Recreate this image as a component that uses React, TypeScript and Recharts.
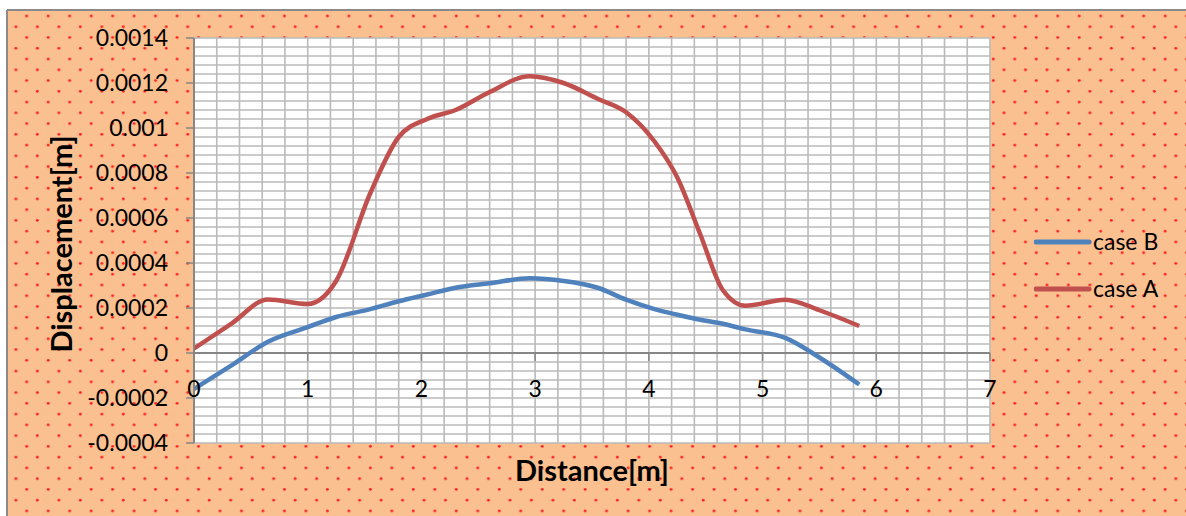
import { LineChart, Line, XAxis, YAxis, CartesianGrid, ReferenceLine, Legend } from 'recharts';

// --- data ---
const distance = [0, 0.33, 0.65, 1.0, 1.25, 1.55, 1.8, 2.05, 2.3, 2.6, 2.95, 3.25, 3.55, 3.8, 4.05, 4.25, 4.45, 4.65, 4.85, 5.2, 5.5, 5.85];
const caseA = [0.00002, 0.000131, 0.000238, 0.000218, 0.00032, 0.00071, 0.00096, 0.00104, 0.00108, 0.00116, 0.00123, 0.0012, 0.00113, 0.00107, 0.00094, 0.00078, 0.00053, 0.00028, 0.00021, 0.000237, 0.00019, 0.00012];
const caseB = [-0.00016, -0.000055, 0.00005, 0.000115, 0.00016, 0.000195, 0.00023, 0.00026, 0.00029, 0.00031, 0.000332, 0.00032, 0.00029, 0.000237, 0.000195, 0.00017, 0.000148, 0.00013, 0.000105, 0.000067, -0.00002, -0.00014];

const seriesOrder = ['case B', 'case A'];
const xTicks = [0, 1, 2, 3, 4, 5, 6, 7];
const yTicks = [-0.0004, -0.0002, 0, 0.0002, 0.0004, 0.0006, 0.0008, 0.001, 0.0012, 0.0014];
const yTickLabels = ['-0.0004', '-0.0002', '0', '0.0002', '0.0004', '0.0006', '0.0008', '0.001', '0.0012', '0.0014'];

const data = distance.map((d, i) => ({ distance: d, caseA: caseA[i], caseB: caseB[i] }));

// --- layout ---
const W = 1186;
const H = 516;
const MARGIN = { top: 38, right: 196, bottom: 43, left: 134 };
const X_AXIS_H = 30;
const Y_AXIS_W = 60;
const Y_MIN = -0.0004;
const Y_MAX = 0.0014;
const PLOT_H = H - MARGIN.top - MARGIN.bottom - X_AXIS_H;
const ZERO_OFFSET = (PLOT_H * (0 - Y_MIN)) / (Y_MAX - Y_MIN);

const FONT = 'Lato, "Open Sans", sans-serif';
const AXIS_GRAY = '#868686';
const GRID_GRAY = '#BABABA';

// minor grid every 0.2 m and every 0.00004 m
const vGrid: number[] = [];
for (let i = 0; i <= 35; i++) vGrid.push(Math.round(i * 2) / 10);
const hGrid: number[] = [];
for (let i = 0; i <= 45; i++) hGrid.push(Y_MIN + i * 0.00004);

function XTick(props: any) {
    const { x, y, payload } = props;
    const zy = y - ZERO_OFFSET;
    return (
        <g>
            <line x1={x} x2={x} y1={zy} y2={zy + 8} stroke={AXIS_GRAY} strokeWidth={1.5} />
            <text x={x} y={zy + 44} textAnchor="middle" fontFamily={FONT} fontSize={23} fill="#000">
                {payload.value}
            </text>
        </g>
    );
}

function LegendBox(props: any) {
    const items = [...(props.payload || [])].sort(
        (a: any, b: any) => seriesOrder.indexOf(a.value) - seriesOrder.indexOf(b.value)
    );
    return (
        <div style={{ fontFamily: FONT, fontSize: 23, color: '#000' }}>
            {items.map((it: any) => (
                <div key={it.value} style={{ display: 'flex', alignItems: 'center', height: 47 }}>
                    <svg width={59} height={10} style={{ display: 'block' }}>
                        <line x1={2} x2={55} y1={5} y2={5} stroke={it.color} strokeWidth={5} strokeLinecap="round" />
                    </svg>
                    <span style={{ lineHeight: '23px' }}>{it.value}</span>
                </div>
            ))}
        </div>
    );
}

export default function App() {
    return (
        <div style={{ position: 'relative', width: W, height: H, overflow: 'hidden' }}>
            <style>{'body{margin:0}'}</style>
            <svg width={W} height={H} style={{ position: 'absolute', left: 0, top: 0 }}>
                <defs>
                    <pattern id="dots" patternUnits="userSpaceOnUse" width={21.48} height={21.52}>
                        <circle cx={5.2} cy={16} r={1.4} fill="#FF1A1A" />
                        <circle cx={15.9} cy={5.24} r={1.4} fill="#FF1A1A" />
                    </pattern>
                </defs>
                <rect x={0} y={0} width={W} height={H} fill="#fff" />
                <rect x={7} y={10} width={W} height={H} fill="#FAC090" />
                <rect x={7} y={10} width={W} height={H} fill="url(#dots)" />
                <line x1={7} x2={W} y1={10} y2={10} stroke="#8A8A8A" strokeWidth={2} />
                <line x1={7} x2={7} y1={10} y2={H} stroke="#8A8A8A" strokeWidth={2} />
                <text
                    x={0}
                    y={0}
                    transform="translate(72 244) rotate(-90)"
                    textAnchor="middle"
                    fontFamily={FONT}
                    fontWeight="bold"
                    fontSize={29}
                    fill="#000"
                >
                    Displacement[m]
                </text>
                <text x={592} y={481} textAnchor="middle" fontFamily={FONT} fontWeight="bold" fontSize={29} fill="#000">
                    Distance[m]
                </text>
            </svg>
            <div style={{ position: 'absolute', left: 0, top: 0 }}>
                <LineChart width={W} height={H} data={data} margin={MARGIN}>
                    <CartesianGrid
                        fill="#fff"
                        stroke={GRID_GRAY}
                        strokeWidth={1.6}
                        verticalValues={vGrid}
                        horizontalValues={hGrid}
                    />
                    <XAxis
                        dataKey="distance"
                        type="number"
                        domain={[0, 7]}
                        ticks={xTicks}
                        interval={0}
                        height={X_AXIS_H}
                        axisLine={false}
                        tickLine={false}
                        tickSize={0}
                        tickMargin={0}
                        tick={<XTick />}
                    />
                    <YAxis
                        type="number"
                        domain={[Y_MIN, Y_MAX]}
                        ticks={yTicks}
                        interval={0}
                        allowDataOverflow
                        width={Y_AXIS_W}
                        axisLine={{ stroke: AXIS_GRAY, strokeWidth: 2 }}
                        tickLine={{ stroke: AXIS_GRAY, strokeWidth: 1.5 }}
                        tickSize={8}
                        tickMargin={18}
                        tickFormatter={(v: number) => yTickLabels[yTicks.indexOf(v)] ?? String(v)}
                        tick={{ fontFamily: FONT, fontSize: 23, fill: '#000' }}
                    />
                    <ReferenceLine y={0} stroke={AXIS_GRAY} strokeWidth={2} />
                    <Line
                        name="case B"
                        dataKey="caseB"
                        type="monotone"
                        stroke="#4F81BD"
                        strokeWidth={4.5}
                        dot={false}
                        isAnimationActive={false}
                    />
                    <Line
                        name="case A"
                        dataKey="caseA"
                        type="monotone"
                        stroke="#C0504D"
                        strokeWidth={4.5}
                        dot={false}
                        isAnimationActive={false}
                    />
                    <Legend
                        layout="vertical"
                        align="center"
                        verticalAlign="middle"
                        content={<LegendBox />}
                        wrapperStyle={{ left: 1034, top: 218, width: 150, height: 94 }}
                    />
                </LineChart>
            </div>
        </div>
    );
}
